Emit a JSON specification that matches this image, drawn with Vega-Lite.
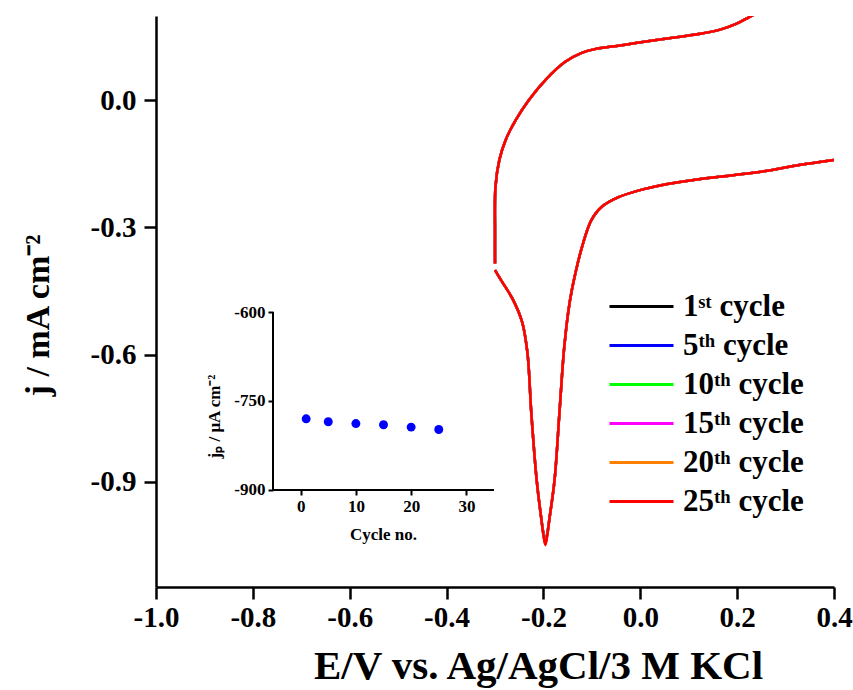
{
"$schema": "https://vega.github.io/schema/vega-lite/v6.json",
"width": 678, "height": 571,
"autosize": {"type": "none"},
"padding": {"left": 156, "top": 16, "right": 19, "bottom": 103},
"background": "white",
"config": {
 "view": {"stroke": null},
 "font": "Liberation Serif",
 "axis": {"grid": false, "domainColor": "#000", "tickColor": "#000", "labelColor": "#000", "titleColor": "#000", "labelFont": "Liberation Serif", "titleFont": "Liberation Serif", "labelFontWeight": "bold", "titleFontWeight": "bold"}
},
"layer": [
{
 "data": {"values": [
{"c":"1ˢᵗ cycle","b":"u","i":0,"E":-0.300,"j":-0.385},{"c":"1ˢᵗ cycle","b":"u","i":1,"E":-0.300,"j":-0.313},{"c":"1ˢᵗ cycle","b":"u","i":2,"E":-0.299,"j":-0.204},{"c":"1ˢᵗ cycle","b":"u","i":3,"E":-0.291,"j":-0.141},{"c":"1ˢᵗ cycle","b":"u","i":4,"E":-0.278,"j":-0.094},{"c":"1ˢᵗ cycle","b":"u","i":5,"E":-0.257,"j":-0.047},{"c":"1ˢᵗ cycle","b":"u","i":6,"E":-0.230,"j":0.000},{"c":"1ˢᵗ cycle","b":"u","i":7,"E":-0.196,"j":0.047},{"c":"1ˢᵗ cycle","b":"u","i":8,"E":-0.155,"j":0.090},{"c":"1ˢᵗ cycle","b":"u","i":9,"E":-0.121,"j":0.111},{"c":"1ˢᵗ cycle","b":"u","i":10,"E":-0.094,"j":0.120},{"c":"1ˢᵗ cycle","b":"u","i":11,"E":-0.045,"j":0.128},{"c":"1ˢᵗ cycle","b":"u","i":12,"E":-0.006,"j":0.135},{"c":"1ˢᵗ cycle","b":"u","i":13,"E":0.056,"j":0.145},{"c":"1ˢᵗ cycle","b":"u","i":14,"E":0.124,"j":0.156},{"c":"1ˢᵗ cycle","b":"u","i":15,"E":0.165,"j":0.166},{"c":"1ˢᵗ cycle","b":"u","i":16,"E":0.199,"j":0.180},{"c":"1ˢᵗ cycle","b":"u","i":17,"E":0.226,"j":0.196},{"c":"1ˢᵗ cycle","b":"u","i":18,"E":0.26,"j":0.217},{"c":"1ˢᵗ cycle","b":"u","i":19,"E":0.30,"j":0.245},
{"c":"1ˢᵗ cycle","b":"d","i":0,"E":0.400,"j":-0.141},{"c":"1ˢᵗ cycle","b":"d","i":1,"E":0.328,"j":-0.153},{"c":"1ˢᵗ cycle","b":"d","i":2,"E":0.266,"j":-0.166},{"c":"1ˢᵗ cycle","b":"d","i":3,"E":0.192,"j":-0.177},{"c":"1ˢᵗ cycle","b":"d","i":4,"E":0.124,"j":-0.186},{"c":"1ˢᵗ cycle","b":"d","i":5,"E":0.056,"j":-0.198},{"c":"1ˢᵗ cycle","b":"d","i":6,"E":-0.006,"j":-0.214},{"c":"1ˢᵗ cycle","b":"d","i":7,"E":-0.045,"j":-0.229},{"c":"1ˢᵗ cycle","b":"d","i":8,"E":-0.080,"j":-0.252},{"c":"1ˢᵗ cycle","b":"d","i":9,"E":-0.101,"j":-0.283},{"c":"1ˢᵗ cycle","b":"d","i":10,"E":-0.118,"j":-0.337},{"c":"1ˢᵗ cycle","b":"d","i":11,"E":-0.134,"j":-0.408},{"c":"1ˢᵗ cycle","b":"d","i":12,"E":-0.146,"j":-0.478},{"c":"1ˢᵗ cycle","b":"d","i":13,"E":-0.157,"j":-0.582},{"c":"1ˢᵗ cycle","b":"d","i":14,"E":-0.167,"j":-0.738},{"c":"1ˢᵗ cycle","b":"d","i":15,"E":-0.177,"j":-0.895},{"c":"1ˢᵗ cycle","b":"d","i":16,"E":-0.188,"j":-0.990},{"c":"1ˢᵗ cycle","b":"d","i":17,"E":-0.192,"j":-1.020},{"c":"1ˢᵗ cycle","b":"d","i":18,"E":-0.196,"j":-1.040},{"c":"1ˢᵗ cycle","b":"d","i":19,"E":-0.200,"j":-1.020},{"c":"1ˢᵗ cycle","b":"d","i":20,"E":-0.204,"j":-0.990},{"c":"1ˢᵗ cycle","b":"d","i":21,"E":-0.214,"j":-0.895},{"c":"1ˢᵗ cycle","b":"d","i":22,"E":-0.225,"j":-0.738},{"c":"1ˢᵗ cycle","b":"d","i":23,"E":-0.233,"j":-0.596},{"c":"1ˢᵗ cycle","b":"d","i":24,"E":-0.244,"j":-0.523},{"c":"1ˢᵗ cycle","b":"d","i":25,"E":-0.264,"j":-0.468},{"c":"1ˢᵗ cycle","b":"d","i":26,"E":-0.285,"j":-0.429},{"c":"1ˢᵗ cycle","b":"d","i":27,"E":-0.300,"j":-0.401},
{"c":"5ᵗʰ cycle","b":"u","i":0,"E":-0.300,"j":-0.385},{"c":"5ᵗʰ cycle","b":"u","i":1,"E":-0.300,"j":-0.313},{"c":"5ᵗʰ cycle","b":"u","i":2,"E":-0.299,"j":-0.204},{"c":"5ᵗʰ cycle","b":"u","i":3,"E":-0.291,"j":-0.141},{"c":"5ᵗʰ cycle","b":"u","i":4,"E":-0.278,"j":-0.094},{"c":"5ᵗʰ cycle","b":"u","i":5,"E":-0.257,"j":-0.047},{"c":"5ᵗʰ cycle","b":"u","i":6,"E":-0.230,"j":0.000},{"c":"5ᵗʰ cycle","b":"u","i":7,"E":-0.196,"j":0.047},{"c":"5ᵗʰ cycle","b":"u","i":8,"E":-0.155,"j":0.090},{"c":"5ᵗʰ cycle","b":"u","i":9,"E":-0.121,"j":0.111},{"c":"5ᵗʰ cycle","b":"u","i":10,"E":-0.094,"j":0.120},{"c":"5ᵗʰ cycle","b":"u","i":11,"E":-0.045,"j":0.128},{"c":"5ᵗʰ cycle","b":"u","i":12,"E":-0.006,"j":0.135},{"c":"5ᵗʰ cycle","b":"u","i":13,"E":0.056,"j":0.145},{"c":"5ᵗʰ cycle","b":"u","i":14,"E":0.124,"j":0.156},{"c":"5ᵗʰ cycle","b":"u","i":15,"E":0.165,"j":0.166},{"c":"5ᵗʰ cycle","b":"u","i":16,"E":0.199,"j":0.180},{"c":"5ᵗʰ cycle","b":"u","i":17,"E":0.226,"j":0.196},{"c":"5ᵗʰ cycle","b":"u","i":18,"E":0.26,"j":0.217},{"c":"5ᵗʰ cycle","b":"u","i":19,"E":0.30,"j":0.245},
{"c":"5ᵗʰ cycle","b":"d","i":0,"E":0.400,"j":-0.141},{"c":"5ᵗʰ cycle","b":"d","i":1,"E":0.328,"j":-0.153},{"c":"5ᵗʰ cycle","b":"d","i":2,"E":0.266,"j":-0.166},{"c":"5ᵗʰ cycle","b":"d","i":3,"E":0.192,"j":-0.177},{"c":"5ᵗʰ cycle","b":"d","i":4,"E":0.124,"j":-0.186},{"c":"5ᵗʰ cycle","b":"d","i":5,"E":0.056,"j":-0.198},{"c":"5ᵗʰ cycle","b":"d","i":6,"E":-0.006,"j":-0.214},{"c":"5ᵗʰ cycle","b":"d","i":7,"E":-0.045,"j":-0.229},{"c":"5ᵗʰ cycle","b":"d","i":8,"E":-0.080,"j":-0.252},{"c":"5ᵗʰ cycle","b":"d","i":9,"E":-0.101,"j":-0.283},{"c":"5ᵗʰ cycle","b":"d","i":10,"E":-0.118,"j":-0.337},{"c":"5ᵗʰ cycle","b":"d","i":11,"E":-0.134,"j":-0.408},{"c":"5ᵗʰ cycle","b":"d","i":12,"E":-0.146,"j":-0.478},{"c":"5ᵗʰ cycle","b":"d","i":13,"E":-0.157,"j":-0.582},{"c":"5ᵗʰ cycle","b":"d","i":14,"E":-0.167,"j":-0.738},{"c":"5ᵗʰ cycle","b":"d","i":15,"E":-0.177,"j":-0.895},{"c":"5ᵗʰ cycle","b":"d","i":16,"E":-0.188,"j":-0.990},{"c":"5ᵗʰ cycle","b":"d","i":17,"E":-0.192,"j":-1.022},{"c":"5ᵗʰ cycle","b":"d","i":18,"E":-0.196,"j":-1.042},{"c":"5ᵗʰ cycle","b":"d","i":19,"E":-0.200,"j":-1.022},{"c":"5ᵗʰ cycle","b":"d","i":20,"E":-0.204,"j":-0.990},{"c":"5ᵗʰ cycle","b":"d","i":21,"E":-0.214,"j":-0.895},{"c":"5ᵗʰ cycle","b":"d","i":22,"E":-0.225,"j":-0.738},{"c":"5ᵗʰ cycle","b":"d","i":23,"E":-0.233,"j":-0.596},{"c":"5ᵗʰ cycle","b":"d","i":24,"E":-0.244,"j":-0.523},{"c":"5ᵗʰ cycle","b":"d","i":25,"E":-0.264,"j":-0.468},{"c":"5ᵗʰ cycle","b":"d","i":26,"E":-0.285,"j":-0.429},{"c":"5ᵗʰ cycle","b":"d","i":27,"E":-0.300,"j":-0.401},
{"c":"10ᵗʰ cycle","b":"u","i":0,"E":-0.300,"j":-0.385},{"c":"10ᵗʰ cycle","b":"u","i":1,"E":-0.300,"j":-0.313},{"c":"10ᵗʰ cycle","b":"u","i":2,"E":-0.299,"j":-0.204},{"c":"10ᵗʰ cycle","b":"u","i":3,"E":-0.291,"j":-0.141},{"c":"10ᵗʰ cycle","b":"u","i":4,"E":-0.278,"j":-0.094},{"c":"10ᵗʰ cycle","b":"u","i":5,"E":-0.257,"j":-0.047},{"c":"10ᵗʰ cycle","b":"u","i":6,"E":-0.230,"j":0.000},{"c":"10ᵗʰ cycle","b":"u","i":7,"E":-0.196,"j":0.047},{"c":"10ᵗʰ cycle","b":"u","i":8,"E":-0.155,"j":0.090},{"c":"10ᵗʰ cycle","b":"u","i":9,"E":-0.121,"j":0.111},{"c":"10ᵗʰ cycle","b":"u","i":10,"E":-0.094,"j":0.120},{"c":"10ᵗʰ cycle","b":"u","i":11,"E":-0.045,"j":0.128},{"c":"10ᵗʰ cycle","b":"u","i":12,"E":-0.006,"j":0.135},{"c":"10ᵗʰ cycle","b":"u","i":13,"E":0.056,"j":0.145},{"c":"10ᵗʰ cycle","b":"u","i":14,"E":0.124,"j":0.156},{"c":"10ᵗʰ cycle","b":"u","i":15,"E":0.165,"j":0.166},{"c":"10ᵗʰ cycle","b":"u","i":16,"E":0.199,"j":0.180},{"c":"10ᵗʰ cycle","b":"u","i":17,"E":0.226,"j":0.196},{"c":"10ᵗʰ cycle","b":"u","i":18,"E":0.26,"j":0.217},{"c":"10ᵗʰ cycle","b":"u","i":19,"E":0.30,"j":0.245},
{"c":"10ᵗʰ cycle","b":"d","i":0,"E":0.400,"j":-0.141},{"c":"10ᵗʰ cycle","b":"d","i":1,"E":0.328,"j":-0.153},{"c":"10ᵗʰ cycle","b":"d","i":2,"E":0.266,"j":-0.166},{"c":"10ᵗʰ cycle","b":"d","i":3,"E":0.192,"j":-0.177},{"c":"10ᵗʰ cycle","b":"d","i":4,"E":0.124,"j":-0.186},{"c":"10ᵗʰ cycle","b":"d","i":5,"E":0.056,"j":-0.198},{"c":"10ᵗʰ cycle","b":"d","i":6,"E":-0.006,"j":-0.214},{"c":"10ᵗʰ cycle","b":"d","i":7,"E":-0.045,"j":-0.229},{"c":"10ᵗʰ cycle","b":"d","i":8,"E":-0.080,"j":-0.252},{"c":"10ᵗʰ cycle","b":"d","i":9,"E":-0.101,"j":-0.283},{"c":"10ᵗʰ cycle","b":"d","i":10,"E":-0.118,"j":-0.337},{"c":"10ᵗʰ cycle","b":"d","i":11,"E":-0.134,"j":-0.408},{"c":"10ᵗʰ cycle","b":"d","i":12,"E":-0.146,"j":-0.478},{"c":"10ᵗʰ cycle","b":"d","i":13,"E":-0.157,"j":-0.582},{"c":"10ᵗʰ cycle","b":"d","i":14,"E":-0.167,"j":-0.738},{"c":"10ᵗʰ cycle","b":"d","i":15,"E":-0.177,"j":-0.895},{"c":"10ᵗʰ cycle","b":"d","i":16,"E":-0.188,"j":-0.990},{"c":"10ᵗʰ cycle","b":"d","i":17,"E":-0.192,"j":-1.023},{"c":"10ᵗʰ cycle","b":"d","i":18,"E":-0.196,"j":-1.044},{"c":"10ᵗʰ cycle","b":"d","i":19,"E":-0.200,"j":-1.023},{"c":"10ᵗʰ cycle","b":"d","i":20,"E":-0.204,"j":-0.990},{"c":"10ᵗʰ cycle","b":"d","i":21,"E":-0.214,"j":-0.895},{"c":"10ᵗʰ cycle","b":"d","i":22,"E":-0.225,"j":-0.738},{"c":"10ᵗʰ cycle","b":"d","i":23,"E":-0.233,"j":-0.596},{"c":"10ᵗʰ cycle","b":"d","i":24,"E":-0.244,"j":-0.523},{"c":"10ᵗʰ cycle","b":"d","i":25,"E":-0.264,"j":-0.468},{"c":"10ᵗʰ cycle","b":"d","i":26,"E":-0.285,"j":-0.429},{"c":"10ᵗʰ cycle","b":"d","i":27,"E":-0.300,"j":-0.401},
{"c":"15ᵗʰ cycle","b":"u","i":0,"E":-0.300,"j":-0.385},{"c":"15ᵗʰ cycle","b":"u","i":1,"E":-0.300,"j":-0.313},{"c":"15ᵗʰ cycle","b":"u","i":2,"E":-0.299,"j":-0.204},{"c":"15ᵗʰ cycle","b":"u","i":3,"E":-0.291,"j":-0.141},{"c":"15ᵗʰ cycle","b":"u","i":4,"E":-0.278,"j":-0.094},{"c":"15ᵗʰ cycle","b":"u","i":5,"E":-0.257,"j":-0.047},{"c":"15ᵗʰ cycle","b":"u","i":6,"E":-0.230,"j":0.000},{"c":"15ᵗʰ cycle","b":"u","i":7,"E":-0.196,"j":0.047},{"c":"15ᵗʰ cycle","b":"u","i":8,"E":-0.155,"j":0.090},{"c":"15ᵗʰ cycle","b":"u","i":9,"E":-0.121,"j":0.111},{"c":"15ᵗʰ cycle","b":"u","i":10,"E":-0.094,"j":0.120},{"c":"15ᵗʰ cycle","b":"u","i":11,"E":-0.045,"j":0.128},{"c":"15ᵗʰ cycle","b":"u","i":12,"E":-0.006,"j":0.135},{"c":"15ᵗʰ cycle","b":"u","i":13,"E":0.056,"j":0.145},{"c":"15ᵗʰ cycle","b":"u","i":14,"E":0.124,"j":0.156},{"c":"15ᵗʰ cycle","b":"u","i":15,"E":0.165,"j":0.166},{"c":"15ᵗʰ cycle","b":"u","i":16,"E":0.199,"j":0.180},{"c":"15ᵗʰ cycle","b":"u","i":17,"E":0.226,"j":0.196},{"c":"15ᵗʰ cycle","b":"u","i":18,"E":0.26,"j":0.217},{"c":"15ᵗʰ cycle","b":"u","i":19,"E":0.30,"j":0.245},
{"c":"15ᵗʰ cycle","b":"d","i":0,"E":0.400,"j":-0.141},{"c":"15ᵗʰ cycle","b":"d","i":1,"E":0.328,"j":-0.153},{"c":"15ᵗʰ cycle","b":"d","i":2,"E":0.266,"j":-0.166},{"c":"15ᵗʰ cycle","b":"d","i":3,"E":0.192,"j":-0.177},{"c":"15ᵗʰ cycle","b":"d","i":4,"E":0.124,"j":-0.186},{"c":"15ᵗʰ cycle","b":"d","i":5,"E":0.056,"j":-0.198},{"c":"15ᵗʰ cycle","b":"d","i":6,"E":-0.006,"j":-0.214},{"c":"15ᵗʰ cycle","b":"d","i":7,"E":-0.045,"j":-0.229},{"c":"15ᵗʰ cycle","b":"d","i":8,"E":-0.080,"j":-0.252},{"c":"15ᵗʰ cycle","b":"d","i":9,"E":-0.101,"j":-0.283},{"c":"15ᵗʰ cycle","b":"d","i":10,"E":-0.118,"j":-0.337},{"c":"15ᵗʰ cycle","b":"d","i":11,"E":-0.134,"j":-0.408},{"c":"15ᵗʰ cycle","b":"d","i":12,"E":-0.146,"j":-0.478},{"c":"15ᵗʰ cycle","b":"d","i":13,"E":-0.157,"j":-0.582},{"c":"15ᵗʰ cycle","b":"d","i":14,"E":-0.167,"j":-0.738},{"c":"15ᵗʰ cycle","b":"d","i":15,"E":-0.177,"j":-0.895},{"c":"15ᵗʰ cycle","b":"d","i":16,"E":-0.188,"j":-0.990},{"c":"15ᵗʰ cycle","b":"d","i":17,"E":-0.192,"j":-1.024},{"c":"15ᵗʰ cycle","b":"d","i":18,"E":-0.196,"j":-1.046},{"c":"15ᵗʰ cycle","b":"d","i":19,"E":-0.200,"j":-1.024},{"c":"15ᵗʰ cycle","b":"d","i":20,"E":-0.204,"j":-0.990},{"c":"15ᵗʰ cycle","b":"d","i":21,"E":-0.214,"j":-0.895},{"c":"15ᵗʰ cycle","b":"d","i":22,"E":-0.225,"j":-0.738},{"c":"15ᵗʰ cycle","b":"d","i":23,"E":-0.233,"j":-0.596},{"c":"15ᵗʰ cycle","b":"d","i":24,"E":-0.244,"j":-0.523},{"c":"15ᵗʰ cycle","b":"d","i":25,"E":-0.264,"j":-0.468},{"c":"15ᵗʰ cycle","b":"d","i":26,"E":-0.285,"j":-0.429},{"c":"15ᵗʰ cycle","b":"d","i":27,"E":-0.300,"j":-0.401},
{"c":"20ᵗʰ cycle","b":"u","i":0,"E":-0.300,"j":-0.385},{"c":"20ᵗʰ cycle","b":"u","i":1,"E":-0.300,"j":-0.313},{"c":"20ᵗʰ cycle","b":"u","i":2,"E":-0.299,"j":-0.204},{"c":"20ᵗʰ cycle","b":"u","i":3,"E":-0.291,"j":-0.141},{"c":"20ᵗʰ cycle","b":"u","i":4,"E":-0.278,"j":-0.094},{"c":"20ᵗʰ cycle","b":"u","i":5,"E":-0.257,"j":-0.047},{"c":"20ᵗʰ cycle","b":"u","i":6,"E":-0.230,"j":0.000},{"c":"20ᵗʰ cycle","b":"u","i":7,"E":-0.196,"j":0.047},{"c":"20ᵗʰ cycle","b":"u","i":8,"E":-0.155,"j":0.090},{"c":"20ᵗʰ cycle","b":"u","i":9,"E":-0.121,"j":0.111},{"c":"20ᵗʰ cycle","b":"u","i":10,"E":-0.094,"j":0.120},{"c":"20ᵗʰ cycle","b":"u","i":11,"E":-0.045,"j":0.128},{"c":"20ᵗʰ cycle","b":"u","i":12,"E":-0.006,"j":0.135},{"c":"20ᵗʰ cycle","b":"u","i":13,"E":0.056,"j":0.145},{"c":"20ᵗʰ cycle","b":"u","i":14,"E":0.124,"j":0.156},{"c":"20ᵗʰ cycle","b":"u","i":15,"E":0.165,"j":0.166},{"c":"20ᵗʰ cycle","b":"u","i":16,"E":0.199,"j":0.180},{"c":"20ᵗʰ cycle","b":"u","i":17,"E":0.226,"j":0.196},{"c":"20ᵗʰ cycle","b":"u","i":18,"E":0.26,"j":0.217},{"c":"20ᵗʰ cycle","b":"u","i":19,"E":0.30,"j":0.245},
{"c":"20ᵗʰ cycle","b":"d","i":0,"E":0.400,"j":-0.141},{"c":"20ᵗʰ cycle","b":"d","i":1,"E":0.328,"j":-0.153},{"c":"20ᵗʰ cycle","b":"d","i":2,"E":0.266,"j":-0.166},{"c":"20ᵗʰ cycle","b":"d","i":3,"E":0.192,"j":-0.177},{"c":"20ᵗʰ cycle","b":"d","i":4,"E":0.124,"j":-0.186},{"c":"20ᵗʰ cycle","b":"d","i":5,"E":0.056,"j":-0.198},{"c":"20ᵗʰ cycle","b":"d","i":6,"E":-0.006,"j":-0.214},{"c":"20ᵗʰ cycle","b":"d","i":7,"E":-0.045,"j":-0.229},{"c":"20ᵗʰ cycle","b":"d","i":8,"E":-0.080,"j":-0.252},{"c":"20ᵗʰ cycle","b":"d","i":9,"E":-0.101,"j":-0.283},{"c":"20ᵗʰ cycle","b":"d","i":10,"E":-0.118,"j":-0.337},{"c":"20ᵗʰ cycle","b":"d","i":11,"E":-0.134,"j":-0.408},{"c":"20ᵗʰ cycle","b":"d","i":12,"E":-0.146,"j":-0.478},{"c":"20ᵗʰ cycle","b":"d","i":13,"E":-0.157,"j":-0.582},{"c":"20ᵗʰ cycle","b":"d","i":14,"E":-0.167,"j":-0.738},{"c":"20ᵗʰ cycle","b":"d","i":15,"E":-0.177,"j":-0.895},{"c":"20ᵗʰ cycle","b":"d","i":16,"E":-0.188,"j":-0.990},{"c":"20ᵗʰ cycle","b":"d","i":17,"E":-0.192,"j":-1.025},{"c":"20ᵗʰ cycle","b":"d","i":18,"E":-0.196,"j":-1.047},{"c":"20ᵗʰ cycle","b":"d","i":19,"E":-0.200,"j":-1.025},{"c":"20ᵗʰ cycle","b":"d","i":20,"E":-0.204,"j":-0.990},{"c":"20ᵗʰ cycle","b":"d","i":21,"E":-0.214,"j":-0.895},{"c":"20ᵗʰ cycle","b":"d","i":22,"E":-0.225,"j":-0.738},{"c":"20ᵗʰ cycle","b":"d","i":23,"E":-0.233,"j":-0.596},{"c":"20ᵗʰ cycle","b":"d","i":24,"E":-0.244,"j":-0.523},{"c":"20ᵗʰ cycle","b":"d","i":25,"E":-0.264,"j":-0.468},{"c":"20ᵗʰ cycle","b":"d","i":26,"E":-0.285,"j":-0.429},{"c":"20ᵗʰ cycle","b":"d","i":27,"E":-0.300,"j":-0.401},
{"c":"25ᵗʰ cycle","b":"u","i":0,"E":-0.300,"j":-0.385},{"c":"25ᵗʰ cycle","b":"u","i":1,"E":-0.300,"j":-0.313},{"c":"25ᵗʰ cycle","b":"u","i":2,"E":-0.299,"j":-0.204},{"c":"25ᵗʰ cycle","b":"u","i":3,"E":-0.291,"j":-0.141},{"c":"25ᵗʰ cycle","b":"u","i":4,"E":-0.278,"j":-0.094},{"c":"25ᵗʰ cycle","b":"u","i":5,"E":-0.257,"j":-0.047},{"c":"25ᵗʰ cycle","b":"u","i":6,"E":-0.230,"j":0.000},{"c":"25ᵗʰ cycle","b":"u","i":7,"E":-0.196,"j":0.047},{"c":"25ᵗʰ cycle","b":"u","i":8,"E":-0.155,"j":0.090},{"c":"25ᵗʰ cycle","b":"u","i":9,"E":-0.121,"j":0.111},{"c":"25ᵗʰ cycle","b":"u","i":10,"E":-0.094,"j":0.120},{"c":"25ᵗʰ cycle","b":"u","i":11,"E":-0.045,"j":0.128},{"c":"25ᵗʰ cycle","b":"u","i":12,"E":-0.006,"j":0.135},{"c":"25ᵗʰ cycle","b":"u","i":13,"E":0.056,"j":0.145},{"c":"25ᵗʰ cycle","b":"u","i":14,"E":0.124,"j":0.156},{"c":"25ᵗʰ cycle","b":"u","i":15,"E":0.165,"j":0.166},{"c":"25ᵗʰ cycle","b":"u","i":16,"E":0.199,"j":0.180},{"c":"25ᵗʰ cycle","b":"u","i":17,"E":0.226,"j":0.196},{"c":"25ᵗʰ cycle","b":"u","i":18,"E":0.26,"j":0.217},{"c":"25ᵗʰ cycle","b":"u","i":19,"E":0.30,"j":0.245},
{"c":"25ᵗʰ cycle","b":"d","i":0,"E":0.400,"j":-0.141},{"c":"25ᵗʰ cycle","b":"d","i":1,"E":0.328,"j":-0.153},{"c":"25ᵗʰ cycle","b":"d","i":2,"E":0.266,"j":-0.166},{"c":"25ᵗʰ cycle","b":"d","i":3,"E":0.192,"j":-0.177},{"c":"25ᵗʰ cycle","b":"d","i":4,"E":0.124,"j":-0.186},{"c":"25ᵗʰ cycle","b":"d","i":5,"E":0.056,"j":-0.198},{"c":"25ᵗʰ cycle","b":"d","i":6,"E":-0.006,"j":-0.214},{"c":"25ᵗʰ cycle","b":"d","i":7,"E":-0.045,"j":-0.229},{"c":"25ᵗʰ cycle","b":"d","i":8,"E":-0.080,"j":-0.252},{"c":"25ᵗʰ cycle","b":"d","i":9,"E":-0.101,"j":-0.283},{"c":"25ᵗʰ cycle","b":"d","i":10,"E":-0.118,"j":-0.337},{"c":"25ᵗʰ cycle","b":"d","i":11,"E":-0.134,"j":-0.408},{"c":"25ᵗʰ cycle","b":"d","i":12,"E":-0.146,"j":-0.478},{"c":"25ᵗʰ cycle","b":"d","i":13,"E":-0.157,"j":-0.582},{"c":"25ᵗʰ cycle","b":"d","i":14,"E":-0.167,"j":-0.738},{"c":"25ᵗʰ cycle","b":"d","i":15,"E":-0.177,"j":-0.895},{"c":"25ᵗʰ cycle","b":"d","i":16,"E":-0.188,"j":-0.990},{"c":"25ᵗʰ cycle","b":"d","i":17,"E":-0.192,"j":-1.025},{"c":"25ᵗʰ cycle","b":"d","i":18,"E":-0.196,"j":-1.049},{"c":"25ᵗʰ cycle","b":"d","i":19,"E":-0.200,"j":-1.025},{"c":"25ᵗʰ cycle","b":"d","i":20,"E":-0.204,"j":-0.990},{"c":"25ᵗʰ cycle","b":"d","i":21,"E":-0.214,"j":-0.895},{"c":"25ᵗʰ cycle","b":"d","i":22,"E":-0.225,"j":-0.738},{"c":"25ᵗʰ cycle","b":"d","i":23,"E":-0.233,"j":-0.596},{"c":"25ᵗʰ cycle","b":"d","i":24,"E":-0.244,"j":-0.523},{"c":"25ᵗʰ cycle","b":"d","i":25,"E":-0.264,"j":-0.468},{"c":"25ᵗʰ cycle","b":"d","i":26,"E":-0.285,"j":-0.429},{"c":"25ᵗʰ cycle","b":"d","i":27,"E":-0.300,"j":-0.401}
 ]},
 "mark": {"type": "line", "strokeWidth": 2.5, "clip": true, "interpolate": "catmull-rom"},
 "encoding": {
  "x": {"field": "E", "type": "quantitative", "scale": {"domain": [-1, 0.4], "nice": false, "zero": false},
        "axis": {"values": [-1, -0.8, -0.6, -0.4, -0.2, 0, 0.2, 0.4], "labelExpr": "replace(format(datum.value, '.1f'), '−', '-')", "tickSize": 12, "tickWidth": 2.5, "domainWidth": 2.5, "labelFontSize": 29, "labelPadding": 4, "labelFlush": false, "labelOverlap": false, "title": "E/V vs. Ag/AgCl/3 M KCl", "titleFontSize": 41, "titleX": 382, "titleY": 91, "titleBaseline": "alphabetic", "titleAlign": "center"}},
  "y": {"field": "j", "type": "quantitative", "scale": {"domain": [-1.1475, 0.198], "nice": false, "zero": false},
        "axis": {"values": [0, -0.3, -0.6, -0.9], "labelExpr": "replace(format(datum.value, '.1f'), '−', '-')", "tickSize": 12, "tickWidth": 2.5, "domainWidth": 2.5, "labelFontSize": 29, "labelPadding": 8, "labelOverlap": false, "title": "j / mA cm⁻²", "titleFontSize": 34, "titleX": -101, "titleY": 299, "titleAngle": 270, "titleBaseline": "bottom", "titleAlign": "center"}},
  "color": {"field": "c", "type": "nominal",
        "scale": {"domain": ["1ˢᵗ cycle", "5ᵗʰ cycle", "10ᵗʰ cycle", "15ᵗʰ cycle", "20ᵗʰ cycle", "25ᵗʰ cycle"], "range": ["#000000", "#0000ff", "#00ff00", "#ff00ff", "#ff8000", "#ff0000"]},
        "legend": {"orient": "none", "legendX": 468, "legendY": 273, "title": null, "labelFont": "Liberation Serif", "labelFontWeight": "bold", "labelFontSize": 31, "labelColor": "#000", "labelLimit": 0, "symbolType": "M-2,0H2", "symbolSize": 1024, "symbolStrokeWidth": 3, "symbolFillColor": "transparent", "rowPadding": 6, "labelOffset": 24}},
  "detail": {"field": "b"},
  "order": {"field": "i", "type": "quantitative"}
 }
},
{
 "data": {"values": [
  {"n": 1, "jp": -780}, {"n": 5, "jp": -785}, {"n": 10, "jp": -788}, {"n": 15, "jp": -790}, {"n": 20, "jp": -794}, {"n": 25, "jp": -798}
 ]},
 "layer": [
  {
   "mark": {"type": "point", "filled": true, "size": 80, "color": "#0000ff", "opacity": 1},
   "encoding": {
    "x": {"field": "n", "type": "quantitative", "scale": {"domain": [-26.18, 96.54], "nice": false, "zero": false},
          "axis": {"orient": "bottom", "offset": -97, "values": [0, 10, 20, 30], "format": "d", "domain": false, "tickSize": 5, "tickWidth": 2, "labelFontSize": 17, "labelPadding": 3, "title": "Cycle no.", "titleFontSize": 17, "titleX": 227, "titleY": 36, "titleBaseline": "top", "titleAlign": "center"}},
    "y": {"field": "jp", "type": "quantitative", "scale": {"domain": [-1063.5, -101.1], "nice": false, "zero": false},
          "axis": {"orient": "left", "offset": -117, "values": [-900, -750, -600], "labelExpr": "replace(format(datum.value, 'd'), '−', '-')", "domain": false, "tickSize": 5, "tickWidth": 2, "labelFontSize": 17, "labelPadding": 3, "title": "jₚ / μA cm⁻²", "titleFontSize": 17, "titleX": -50, "titleY": 400, "titleAngle": 270, "titleBaseline": "bottom", "titleAlign": "center"}}
   }
  },
  {
   "mark": {"type": "rule", "strokeWidth": 2, "color": "#000"},
   "encoding": {"x": {"datum": -5, "type": "quantitative"}, "x2": {"datum": 35}, "y": {"datum": -900, "type": "quantitative"}}
  },
  {
   "mark": {"type": "rule", "strokeWidth": 2, "color": "#000"},
   "encoding": {"x": {"datum": -5, "type": "quantitative"}, "y": {"datum": -900, "type": "quantitative"}, "y2": {"datum": -600}}
  }
 ]
}
],
"resolve": {"scale": {"x": "independent", "y": "independent"}, "axis": {"x": "independent", "y": "independent"}}
}
